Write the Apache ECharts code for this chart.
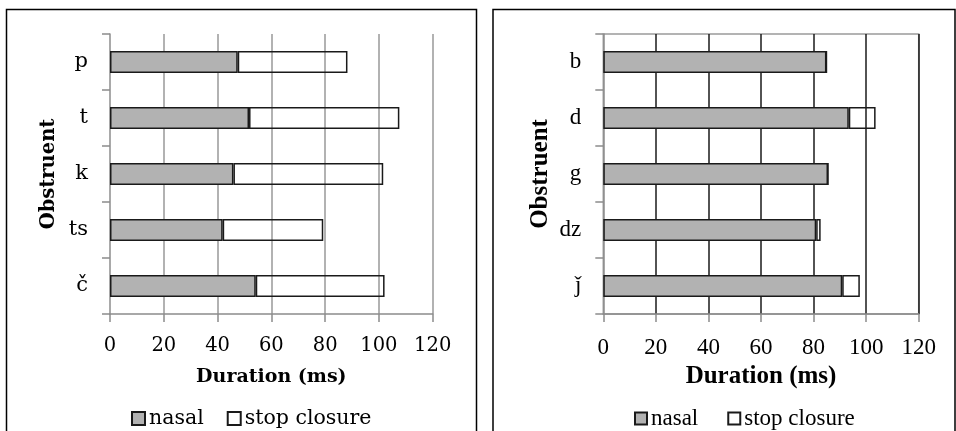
<!DOCTYPE html>
<html>
<head>
<meta charset="utf-8">
<script src="https://cdn.jsdelivr.net/npm/echarts@6/dist/echarts.min.js"></script>
<style>
html,body{margin:0;padding:0;background:#fff;}
#c{width:956px;height:431px;}
</style>
</head>
<body>
<div id="c"></div>
<script>
// Left panel: voiceless obstruents
const leftCategories = ['p', 't', 'k', 'ts', 'č'];
const leftNasal = [47.5, 51.7, 45.9, 41.9, 54.2];
const leftStop = [40.8, 55.9, 55.7, 37.4, 47.9];
// Right panel: voiced obstruents
const rightCategories = ['b', 'd', 'g', 'dz', 'ǰ'];
const rightNasal = [84.9, 93.4, 85.5, 81.0, 90.9];
const rightStop = [0, 10.2, 0, 1.7, 6.7];
// Axis ticks
const xMin = 0, xMax = 120, xStep = 20;
const seriesNames = ['nasal', 'stop closure'];

const LF = 'DejaVu Serif';
const RF = 'Liberation Serif';

const chart = echarts.init(document.getElementById('c'), null, {renderer: 'canvas'});

function xAxis(gridIndex, font, size, nameSize, nameGap, splitColor) {
  return {
    type: 'value', gridIndex, min: xMin, max: xMax, interval: xStep,
    name: 'Duration (ms)', nameLocation: 'middle', nameGap,
    nameTextStyle: {fontFamily: font, fontWeight: 'bold', fontSize: nameSize, color: '#000'},
    axisLine: {show: true, lineStyle: {color: '#8c8c8c', width: 1.5}},
    axisTick: {show: true, length: 8, inside: false, lineStyle: {color: '#8c8c8c', width: 1.5}},
    axisLabel: {fontFamily: font, fontSize: size, color: '#000', margin: 22},
    splitLine: {show: true, showMinLine: false, lineStyle: {color: splitColor, width: 1.5}}
  };
}
function yAxis(gridIndex, cats, font, size, nameSize, nameGap) {
  return {
    type: 'category', gridIndex, data: cats, inverse: true,
    name: 'Obstruent', nameLocation: 'middle', nameGap,
    nameTextStyle: {fontFamily: font, fontWeight: 'bold', fontSize: nameSize, color: '#000'},
    axisLine: {show: true, lineStyle: {color: '#8c8c8c', width: 1.5}},
    axisTick: {show: true, length: 8, alignWithLabel: false, lineStyle: {color: '#8c8c8c', width: 1.5}},
    axisLabel: {fontFamily: font, fontSize: size, color: '#000', margin: 22},
    splitLine: {show: false}
  };
}
function bar(name, data, idx, stack, fill) {
  return {
    name, type: 'bar', data, xAxisIndex: idx, yAxisIndex: idx, stack,
    barWidth: 22, silent: true, animation: false,
    itemStyle: {color: fill, borderColor: '#1a1a1a', borderWidth: 1.5}
  };
}

chart.setOption({
  animation: false,
  backgroundColor: '#fff',
  grid: [
    {left: 110, top: 34, width: 322.7, height: 280, containLabel: false},
    {left: 603.3, top: 34, width: 315.4, height: 280, containLabel: false,
     show: true, borderColor: '#9a9a9a', borderWidth: 1.5, backgroundColor: 'transparent'}
  ],
  xAxis: [
    xAxis(0, LF, 19.5, 19, 54, '#999999'),
    xAxis(1, RF, 23, 25, 50, '#1a1a1a')
  ],
  yAxis: [
    yAxis(0, leftCategories, LF, 21, 19.5, 51),
    yAxis(1, rightCategories, RF, 23, 25, 50)
  ],
  legend: [
    {
      data: seriesNames, left: 126, top: 403, itemWidth: 13, itemHeight: 13, itemGap: 23,
      icon: 'rect', selectedMode: false,
      textStyle: {fontFamily: LF, fontSize: 20.5, color: '#000', padding: [0, 0, 0, -1]}
    },
    {
      data: seriesNames, left: 629, top: 402, itemWidth: 12, itemHeight: 12, itemGap: 29,
      icon: 'rect', selectedMode: false,
      textStyle: {fontFamily: RF, fontSize: 23, color: '#000', padding: [0, 0, 0, -1]}
    }
  ],
  graphic: [
    {type: 'rect', shape: {x: 6.5, y: 9.5, width: 470, height: 440}, silent: true,
     style: {fill: 'none', stroke: '#000', lineWidth: 1.5}},
    {type: 'rect', shape: {x: 493, y: 9.5, width: 462, height: 440}, silent: true,
     style: {fill: 'none', stroke: '#000', lineWidth: 1.5}}
  ],
  series: [
    bar(seriesNames[0], leftNasal, 0, 'L', '#b2b2b2'),
    bar(seriesNames[1], leftStop, 0, 'L', 'rgba(255,255,255,0)'),
    bar(seriesNames[0], rightNasal, 1, 'R', '#b2b2b2'),
    bar(seriesNames[1], rightStop, 1, 'R', 'rgba(255,255,255,0)')
  ]
});
</script>
</body>
</html>
